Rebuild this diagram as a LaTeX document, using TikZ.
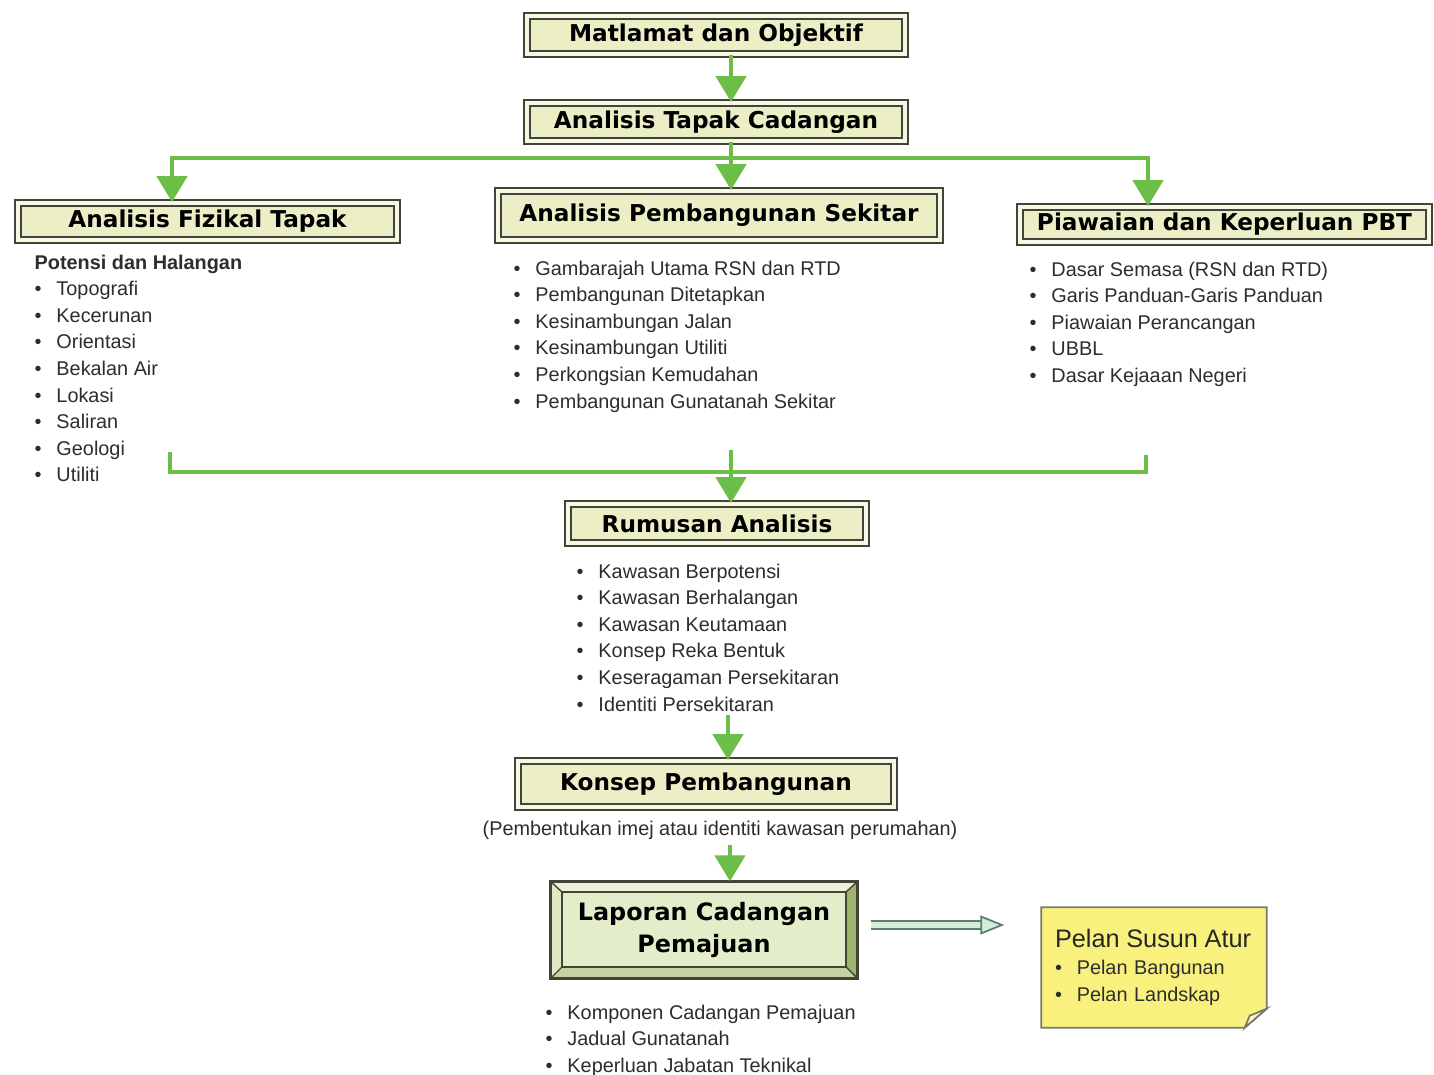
\documentclass[tikz,border=0pt]{standalone}
\usepackage{fontspec}
\setmainfont{Liberation Sans}
\newfontfamily\judulfont{DejaVu Sans}
\usetikzlibrary{arrows.meta,backgrounds}

\definecolor{boxfill}{RGB}{236,239,198}
\definecolor{framegray}{RGB}{66,68,56}
\definecolor{framelight}{RGB}{246,248,230}
\definecolor{flowgreen}{RGB}{108,190,72}
\definecolor{textgray}{RGB}{45,45,45}
\definecolor{notefill}{RGB}{249,241,125}
\definecolor{notefold}{RGB}{252,248,190}
\definecolor{notegray}{RGB}{120,120,110}
\definecolor{lapofill}{RGB}{228,237,202}
\definecolor{bevtop}{RGB}{236,241,218}
\definecolor{bevleft}{RGB}{224,233,198}
\definecolor{bevright}{RGB}{158,180,112}
\definecolor{bevbot}{RGB}{198,210,162}
\definecolor{arrowgray}{RGB}{88,128,110}
\definecolor{arrowfill}{RGB}{214,236,214}

\newcommand{\butir}[1]{\makebox[6.2pt][l]{\textbullet}#1}

\begin{document}
\begin{tikzpicture}[x=1cm, y=1cm,
    kotak/.style={rectangle, fill=boxfill, draw=framegray, double=framelight, double distance=1.1pt, line width=0.55pt, inner sep=0pt, align=center, font=\fontsize{6.6}{8}\judulfont\bfseries},
    senarai/.style={anchor=north west, inner sep=0pt, align=left, text=textgray, font=\fontsize{5.65}{7.57}\selectfont},
    alir/.style={draw=flowgreen, line width=1.4pt, -{Triangle[width=3mm,length=2.6mm]}},
    garis/.style={draw=flowgreen, line width=1.3pt},
    panahdua/.style={draw=arrowgray, double=arrowfill, double distance=1.6pt, line width=0.5pt, -{Triangle[width=1.9mm,length=2.4mm,fill=arrowfill]}},
    ]
    \useasboundingbox (0,0) rectangle (14.34,-10.75);

    % Definisi Node (Kotak-kotak)
    \node (matlamat) [kotak, minimum width=3.78cm, minimum height=0.38cm] at (7.16,-0.35) {Matlamat dan Objektif};
    \node (tapak) [kotak, minimum width=3.78cm, minimum height=0.38cm] at (7.16,-1.22) {Analisis Tapak Cadangan};

    \node (fizikal) [kotak, minimum width=3.79cm, minimum height=0.37cm] at (2.075,-2.215) {Analisis Fizikal Tapak};
    \node (sekitar) [kotak, minimum width=4.42cm, minimum height=0.49cm] at (7.19,-2.155) {Analisis Pembangunan Sekitar};
    \node (pbt) [kotak, minimum width=4.09cm, minimum height=0.35cm] at (12.245,-2.245) {Piawaian dan Keperluan PBT};

    % Senarai bawah kotak
    \node (fizlist) [senarai] at (0.34,-2.54) {\textbf{Potensi dan Halangan}\\\butir{Topografi}\\\butir{Kecerunan}\\\butir{Orientasi}\\\butir{Bekalan Air}\\\butir{Lokasi}\\\butir{Saliran}\\\butir{Geologi}\\\butir{Utiliti}};
    \node (seklist) [senarai] at (5.13,-2.60) {\butir{Gambarajah Utama RSN dan RTD}\\\butir{Pembangunan Ditetapkan}\\\butir{Kesinambungan Jalan}\\\butir{Kesinambungan Utiliti}\\\butir{Perkongsian Kemudahan}\\\butir{Pembangunan Gunatanah Sekitar}};
    \node (pbtlist) [senarai] at (10.29,-2.61) {\butir{Dasar Semasa (RSN dan RTD)}\\\butir{Garis Panduan-Garis Panduan}\\\butir{Piawaian Perancangan}\\\butir{UBBL}\\\butir{Dasar Kejaaan Negeri}};

    \node (rumusan) [kotak, minimum width=2.98cm, minimum height=0.39cm] at (7.17,-5.235) {Rumusan Analisis};
    \node (rumlist) [senarai] at (5.76,-5.63) {\butir{Kawasan Berpotensi}\\\butir{Kawasan Berhalangan}\\\butir{Kawasan Keutamaan}\\\butir{Konsep Reka Bentuk}\\\butir{Keseragaman Persekitaran}\\\butir{Identiti Persekitaran}};

    \node (konsep) [kotak, minimum width=3.76cm, minimum height=0.46cm] at (7.06,-7.84) {Konsep Pembangunan};
    \node (subkonsep) [inner sep=0pt, text=textgray, font=\fontsize{5.65}{7.57}\selectfont] at (7.20,-8.30) {(Pembentukan imej atau identiti kawasan perumahan)};

    \node (laporan) [rectangle, fill=lapofill, minimum width=3.06cm, minimum height=0.96cm, align=center, font=\fontsize{6.8}{9.1}\judulfont\bfseries] at (7.04,-9.30) {Laporan Cadangan\\Pemajuan};
    \node (lapolist) [senarai] at (5.45,-10.04) {\butir{Komponen Cadangan Pemajuan}\\\butir{Jadual Gunatanah}\\\butir{Keperluan Jabatan Teknikal}};

    \node (pelan) [rectangle, minimum width=2.24cm, minimum height=1.19cm, text width=1.98cm, inner xsep=0.13cm, align=left, text=textgray, font=\fontsize{5.65}{7.6}\selectfont] at (11.54,-9.675) {{\fontsize{7.2}{8.5}\selectfont\color{black!85}Pelan Susun Atur}\\\butir{Pelan Bangunan}\\\butir{Pelan Landskap}};

    % Bingkai timbul kotak laporan
    \fill[bevtop] (laporan.north west) -- (laporan.north east) -- ([shift={(-0.12,-0.11)}]laporan.north east) -- ([shift={(0.12,-0.11)}]laporan.north west) -- cycle;
    \fill[bevbot] (laporan.south west) -- (laporan.south east) -- ([shift={(-0.12,0.12)}]laporan.south east) -- ([shift={(0.12,0.12)}]laporan.south west) -- cycle;
    \fill[bevleft] (laporan.north west) -- ([shift={(0.12,-0.11)}]laporan.north west) -- ([shift={(0.12,0.12)}]laporan.south west) -- (laporan.south west) -- cycle;
    \fill[bevright] (laporan.north east) -- ([shift={(-0.12,-0.11)}]laporan.north east) -- ([shift={(-0.12,0.12)}]laporan.south east) -- (laporan.south east) -- cycle;
    \draw[framegray, line width=0.8pt] (laporan.north west) rectangle (laporan.south east);
    \draw[framegray, line width=0.6pt] ([shift={(0.12,-0.11)}]laporan.north west) rectangle ([shift={(-0.12,0.12)}]laporan.south east);
    \foreach \sudut/\dx/\dy in {north west/0.12/-0.11, north east/-0.12/-0.11, south west/0.12/0.12, south east/-0.12/0.12}
        \draw[framegray, line width=0.4pt] (laporan.\sudut) -- ([shift={(\dx,\dy)}]laporan.\sudut);

    % Latar putih dan kertas nota (lipatan di sudut)
    \begin{scope}[on background layer]
        \fill[white] (0,0) rectangle (14.34,-10.75);
        \filldraw[fill=notefill, draw=notegray, line width=0.5pt] (pelan.north west) -- (pelan.north east) -- ([yshift=0.19cm]pelan.south east) -- ([xshift=-0.22cm]pelan.south east) -- (pelan.south west) -- cycle;
        \filldraw[fill=notefold, draw=notegray, line width=0.5pt] ([yshift=0.19cm]pelan.south east) -- ([shift={(-0.17,0.12)}]pelan.south east) -- ([xshift=-0.22cm]pelan.south east) -- cycle;
    \end{scope}

    % Titik cabang anak panah
    \coordinate (pecah) at (7.31,-1.58);
    \coordinate (kiribawah) at (1.70,-4.52);
    \coordinate (kananbawah) at (11.46,-4.55);
    \coordinate (gabung) at (7.31,-4.72);
    \coordinate (gabungatas) at (7.31,-4.50);
    \coordinate (paksi) at (7.28,-7.15);
    \coordinate (paksidua) at (7.30,-8.45);
    \coordinate (ekor) at ([shift={(0.13,0.05)}]laporan.east);

    % Definisi Panah (Hubungan)
    \draw [alir] (matlamat.south -| pecah) -- (tapak.north -| pecah);
    \draw [garis] (tapak.south -| pecah) -- (pecah);
    \draw [alir] (pecah) -| ([xshift=-0.355cm]fizikal.north);
    \draw [alir] (pecah) -- (sekitar.north -| pecah);
    \draw [alir] (pecah) -| ([xshift=-0.765cm]pbt.north);

    \draw [garis] (kiribawah) |- (gabung) -| (kananbawah);
    \draw [alir] (gabungatas) -- (rumusan.north -| gabungatas);

    \draw [alir] (paksi) -- (konsep.north -| paksi);
    \draw [alir] (paksidua) -- (laporan.north -| paksidua);

    \draw [panahdua] (ekor) -- ([xshift=-0.37cm]pelan.west |- ekor);
\end{tikzpicture}
\end{document}
